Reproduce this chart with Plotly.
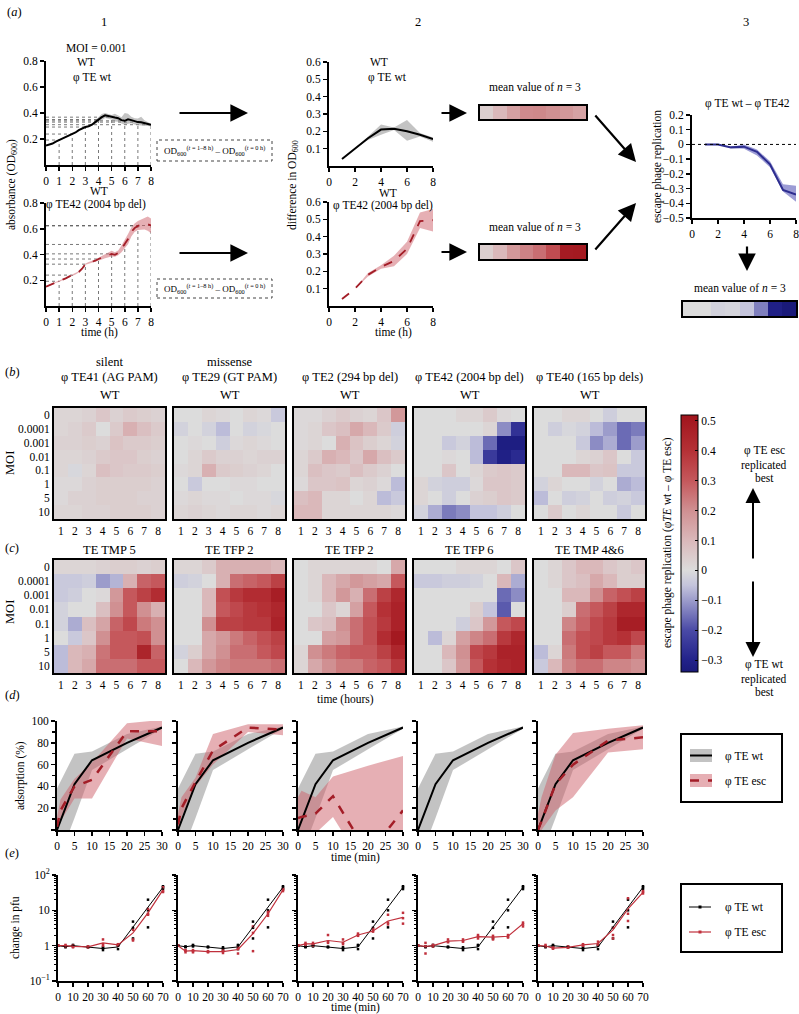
import plotly.graph_objects as go

FONT = "Liberation Serif"
W, H = 799, 1014

# ---------------- DATA ----------------
t_a1 = [0, 0.25, 0.5, 0.75, 1, 1.25, 1.5, 1.75, 2, 2.25, 2.5, 2.75, 3, 3.25, 3.5, 3.75,
        4, 4.25, 4.5, 4.75, 5, 5.25, 5.5, 5.75, 6, 6.25, 6.5, 6.75, 7, 7.25, 7.5, 7.75, 8]
od_wt_mean = [0.150, 0.155, 0.165, 0.180, 0.192, 0.200, 0.212, 0.225, 0.238, 0.250, 0.268, 0.283,
              0.292, 0.298, 0.310, 0.330, 0.350, 0.368, 0.382, 0.375, 0.368, 0.365, 0.360, 0.345,
              0.340, 0.352, 0.345, 0.335, 0.330, 0.328, 0.322, 0.318, 0.310]
od_wt_hi = [0.152, 0.157, 0.167, 0.182, 0.194, 0.202, 0.214, 0.227, 0.240, 0.252, 0.270, 0.286,
            0.296, 0.303, 0.318, 0.345, 0.372, 0.392, 0.400, 0.392, 0.385, 0.395, 0.382, 0.368,
            0.400, 0.395, 0.372, 0.360, 0.358, 0.372, 0.345, 0.330, 0.318]
od_wt_lo = [0.148, 0.153, 0.163, 0.178, 0.190, 0.198, 0.210, 0.223, 0.236, 0.248, 0.266, 0.280,
            0.288, 0.293, 0.302, 0.315, 0.330, 0.345, 0.362, 0.355, 0.350, 0.335, 0.332, 0.320,
            0.310, 0.318, 0.322, 0.312, 0.305, 0.300, 0.302, 0.300, 0.298]
od_esc_mean = [0.150, 0.160, 0.172, 0.185, 0.192, 0.205, 0.215, 0.228, 0.240, 0.250, 0.265, 0.290,
               0.325, 0.335, 0.342, 0.352, 0.365, 0.375, 0.385, 0.398, 0.405, 0.398, 0.412, 0.445,
               0.478, 0.520, 0.575, 0.605, 0.622, 0.630, 0.638, 0.635, 0.625]
od_esc_hi = [0.155, 0.165, 0.177, 0.190, 0.197, 0.210, 0.220, 0.233, 0.245, 0.255, 0.270, 0.295,
             0.330, 0.341, 0.349, 0.360, 0.375, 0.388, 0.402, 0.420, 0.430, 0.418, 0.432, 0.470,
             0.510, 0.560, 0.610, 0.640, 0.660, 0.672, 0.688, 0.695, 0.680]
od_esc_lo = [0.145, 0.155, 0.167, 0.180, 0.187, 0.200, 0.210, 0.223, 0.235, 0.245, 0.260, 0.285,
             0.320, 0.329, 0.335, 0.344, 0.355, 0.362, 0.370, 0.380, 0.385, 0.382, 0.395, 0.418,
             0.445, 0.480, 0.540, 0.575, 0.590, 0.592, 0.595, 0.585, 0.565]

hours = [1, 2, 3, 4, 5, 6, 7, 8]
diff_wt_mean = [0.04, 0.10, 0.16, 0.21, 0.215, 0.20, 0.18, 0.155]
diff_wt_hi = [0.04, 0.10, 0.17, 0.24, 0.222, 0.265, 0.19, 0.165]
diff_wt_lo = [0.04, 0.10, 0.15, 0.18, 0.208, 0.145, 0.17, 0.14]
diff_esc_mean = [0.04, 0.10, 0.18, 0.225, 0.26, 0.33, 0.49, 0.495]
diff_esc_hi = [0.04, 0.10, 0.19, 0.235, 0.29, 0.37, 0.54, 0.56]
diff_esc_lo = [0.04, 0.10, 0.17, 0.215, 0.23, 0.30, 0.45, 0.43]
rep_mean = [0.0, 0.0, -0.02, -0.015, -0.05, -0.135, -0.31, -0.34]
rep_hi = [0.0, 0.0, -0.015, 0.0, -0.035, -0.115, -0.27, -0.28]
rep_lo = [0.0, 0.0, -0.025, -0.03, -0.075, -0.155, -0.32, -0.39]

moi_labels = ["0", "0.0001", "0.001", "0.01", "0.1", "1", "5", "10"]

b_te41 = [[0.02, 0.02, 0.03, 0.06, 0.03, 0.05, 0.04, 0.03],
          [0.02, 0.03, 0.05, 0.00, 0.05, 0.12, 0.08, 0.05],
          [0.03, 0.03, 0.04, 0.03, 0.07, 0.05, 0.05, 0.04],
          [0.02, 0.02, 0.03, 0.05, 0.06, 0.06, 0.04, 0.03],
          [0.02, -0.01, 0.02, 0.08, 0.06, 0.05, 0.05, 0.04],
          [0.01, 0.01, 0.03, 0.04, 0.04, 0.04, 0.04, 0.03],
          [0.01, 0.03, 0.03, 0.04, 0.04, 0.04, 0.03, 0.03],
          [0.02, 0.02, 0.03, 0.03, 0.04, 0.04, 0.04, 0.03]]
b_te29 = [[0.00, 0.00, 0.02, 0.01, 0.00, 0.02, 0.01, -0.04],
          [-0.02, 0.00, -0.02, -0.06, 0.00, -0.02, -0.01, 0.00],
          [0.00, 0.01, 0.00, -0.03, 0.01, 0.02, 0.01, 0.00],
          [0.00, 0.02, 0.05, 0.03, 0.03, 0.02, 0.03, 0.03],
          [0.01, 0.02, 0.12, 0.05, 0.04, 0.03, 0.02, 0.00],
          [0.00, -0.04, 0.00, 0.00, 0.01, 0.01, 0.00, 0.00],
          [0.01, 0.02, 0.01, 0.01, 0.00, 0.01, 0.01, -0.01],
          [0.02, 0.03, 0.02, 0.01, 0.02, 0.02, 0.01, 0.02]]
b_te2 = [[0.01, 0.01, 0.03, 0.05, 0.03, 0.02, 0.06, 0.18],
         [0.01, 0.02, 0.06, 0.08, 0.14, 0.10, 0.05, -0.03],
         [0.01, 0.02, 0.00, 0.12, 0.07, 0.04, 0.02, -0.02],
         [0.02, 0.05, 0.12, 0.10, 0.06, 0.14, 0.08, 0.05],
         [0.02, 0.08, 0.06, 0.05, 0.08, 0.05, 0.03, 0.00],
         [0.01, 0.06, 0.06, 0.07, 0.02, 0.03, 0.01, -0.06],
         [0.08, 0.10, 0.02, 0.02, 0.00, 0.02, -0.06, -0.04],
         [0.10, 0.10, 0.02, 0.02, 0.02, 0.02, 0.02, 0.01]]
b_te42 = [[0.00, 0.00, 0.00, 0.02, 0.02, 0.05, 0.01, 0.00],
          [0.00, 0.00, 0.00, 0.00, 0.00, 0.02, -0.12, -0.26],
          [0.00, 0.00, -0.04, -0.02, -0.06, -0.16, -0.32, -0.32],
          [0.00, 0.00, 0.01, 0.00, -0.06, -0.24, -0.31, -0.28],
          [0.00, 0.00, 0.06, 0.00, 0.02, 0.05, 0.06, 0.05],
          [0.02, -0.02, -0.03, -0.03, 0.01, 0.06, 0.06, 0.05],
          [0.02, 0.00, -0.03, 0.00, 0.03, 0.04, 0.06, 0.05],
          [-0.02, -0.08, -0.14, -0.12, -0.05, -0.05, -0.03, 0.00]]
b_te40 = [[0.00, 0.00, 0.02, 0.02, 0.00, -0.03, 0.00, 0.00],
          [0.00, -0.03, -0.01, -0.02, -0.06, -0.10, -0.16, -0.14],
          [0.00, 0.00, 0.00, -0.04, -0.12, -0.08, -0.16, -0.10],
          [0.00, 0.00, 0.00, 0.02, 0.03, 0.06, 0.00, -0.04],
          [0.00, 0.00, 0.10, 0.10, 0.06, 0.07, -0.04, -0.04],
          [-0.02, 0.02, 0.00, 0.00, -0.02, 0.00, -0.08, -0.06],
          [-0.06, 0.00, -0.03, -0.02, 0.00, -0.03, -0.02, -0.04],
          [0.00, 0.05, 0.00, 0.02, 0.00, 0.00, -0.04, 0.00]]
c_tmp5 = [[0.02, 0.02, 0.02, 0.03, 0.04, 0.04, 0.03, 0.04],
          [-0.04, -0.04, -0.03, -0.10, -0.07, 0.12, 0.28, 0.30],
          [-0.04, -0.03, 0.00, 0.01, 0.18, 0.30, 0.36, 0.42],
          [-0.02, 0.00, 0.00, 0.08, 0.20, 0.30, 0.20, 0.12],
          [-0.02, -0.08, 0.08, 0.15, 0.28, 0.34, 0.24, 0.20],
          [0.00, -0.04, 0.06, 0.20, 0.30, 0.30, 0.32, 0.20],
          [-0.06, 0.10, 0.12, 0.25, 0.30, 0.30, 0.45, 0.28],
          [-0.06, 0.10, 0.14, 0.26, 0.26, 0.26, 0.30, 0.30]]
c_tfp2a = [[0.02, 0.02, 0.05, 0.12, 0.12, 0.12, 0.12, 0.10],
           [-0.03, -0.02, 0.00, 0.12, 0.26, 0.28, 0.30, 0.36],
           [0.00, 0.00, 0.10, 0.32, 0.38, 0.42, 0.42, 0.48],
           [0.00, 0.00, 0.10, 0.30, 0.34, 0.38, 0.40, 0.44],
           [0.00, 0.00, 0.20, 0.36, 0.36, 0.38, 0.38, 0.46],
           [0.00, 0.00, 0.14, 0.18, 0.24, 0.28, 0.32, 0.36],
           [-0.02, 0.04, 0.14, 0.20, 0.26, 0.26, 0.30, 0.34],
           [0.00, 0.10, 0.18, 0.22, 0.24, 0.24, 0.24, 0.26]]
c_tfp2b = [[0.00, 0.02, 0.02, 0.02, 0.02, 0.02, 0.00, 0.14],
           [0.00, 0.02, 0.10, 0.14, 0.18, 0.16, 0.14, 0.30],
           [0.00, 0.02, 0.10, 0.18, 0.12, 0.26, 0.36, 0.44],
           [0.00, 0.00, 0.06, 0.02, 0.16, 0.30, 0.40, 0.46],
           [0.00, 0.06, 0.08, 0.20, 0.26, 0.32, 0.38, 0.46],
           [0.00, 0.00, 0.16, 0.18, 0.26, 0.32, 0.42, 0.50],
           [0.02, 0.20, 0.24, 0.28, 0.30, 0.30, 0.36, 0.44],
           [0.02, 0.14, 0.20, 0.24, 0.24, 0.28, 0.30, 0.38]]
c_tfp6 = [[0.00, 0.00, 0.00, 0.02, 0.02, 0.02, 0.00, 0.06],
          [-0.04, -0.04, -0.03, -0.03, -0.02, 0.00, 0.10, -0.08],
          [0.00, 0.00, 0.00, 0.00, 0.00, 0.00, -0.16, -0.12],
          [0.00, 0.00, 0.00, 0.00, 0.04, -0.05, -0.18, 0.00],
          [0.00, 0.00, 0.00, -0.03, 0.06, 0.18, 0.30, 0.34],
          [0.00, -0.06, 0.02, 0.16, 0.22, 0.26, 0.38, 0.44],
          [0.00, 0.00, 0.10, 0.20, 0.34, 0.38, 0.46, 0.46],
          [0.00, 0.00, 0.06, 0.18, 0.30, 0.40, 0.44, 0.46]]
c_tmp46 = [[0.00, 0.02, 0.06, 0.10, 0.10, 0.06, 0.04, 0.06],
           [0.00, 0.02, 0.06, 0.08, 0.14, 0.10, 0.04, 0.04],
           [0.00, 0.00, 0.10, 0.10, 0.20, 0.28, 0.32, 0.36],
           [0.00, 0.00, 0.04, 0.26, 0.30, 0.36, 0.44, 0.44],
           [0.00, 0.00, 0.22, 0.28, 0.34, 0.38, 0.48, 0.48],
           [0.00, 0.00, 0.26, 0.32, 0.34, 0.38, 0.40, 0.34],
           [-0.06, 0.02, 0.24, 0.32, 0.36, 0.30, 0.30, 0.24],
           [-0.04, 0.10, 0.22, 0.26, 0.26, 0.22, 0.22, 0.20]]

PHI = "φ"
b_titles = [["silent", PHI + " TE41 (AG PAM)"], ["missense", PHI + " TE29 (GT PAM)"],
            ["", PHI + " TE2 (294 bp del)"], ["", PHI + " TE42 (2004 bp del)"],
            ["", PHI + " TE40 (165 bp dels)"]]
c_titles = ["TE TMP 5", "TE TFP 2", "TE TFP 2", "TE TFP 6", "TE TMP 4&6"]

# adsorption (d)
ads_wt_x = [0, 5, 10, 20, 30]
ads_wt_mean = [0, 42, 64, 80, 94]
ads_wt_hi = [38, 70, 72, 88, 95]
ads_wt_lo = [-31, 11, 55, 74, 93]
ads_esc_x = [0, 1, 5, 10, 20, 30]
ads_esc_mean = [[3, 18, 40, 46, 90.5, 90.5],
                [5, 20, 44, 73, 94, 92],
                [11, 12, 15, 31, -22, 18],
                None,
                [0, 8, 42, 60, 82, 85]]
ads_esc_hi = [[12, 28, 47, 62, 98, 101],
              [15, 30, 48, 88, 97, 97],
              [30, 36, 30, 49, 59, 68],
              None,
              [15, 30, 69, 89, 93, 96]]
ads_esc_lo = [[0, 8, 29, 29, 84, 77],
              [0, 12, 40, 60, 90, 87],
              [-5, -5, -3, 12, -40, -40],
              None,
              [-5, 0, 18, 30, 71, 74]]

# pfu (e)
pfu_x = [0, 5, 10, 20, 30, 40, 50, 60, 70]
pfu_wt_mean = [1.0, 0.93, 1.0, 0.92, 0.83, 0.92, 3.4, 12, 45]
pfu_wt_reps = [[1, 1, 1], [0.95, 0.9, 0.93], [1.05, 1.0, 0.95], [0.9, 0.93, 0.92], [0.75, 0.85, 0.9],
               [0.8, 1.0, 1.05], [4.8, 1.6, 3.2], [20, 3.3, 10], [45, 40, 48]]
pfu_esc_mean = [[1.0, 1.0, 0.95, 0.92, 1.2, 1.05, 2.3, 8.5, 38],
                [1.0, 0.7, 0.72, 0.68, 0.68, 0.78, 2.2, 8, 38],
                [1.0, 1.12, 1.12, 1.4, 1.25, 2.0, 2.6, 5.0, 6.3],
                [1.0, 0.95, 1.0, 1.35, 1.4, 1.8, 1.75, 1.85, 4.2],
                [1.0, 0.98, 0.85, 0.9, 1.05, 1.15, 2.8, 11, 32]]
pfu_esc_reps = [
    [[1, 1, 1], [1.05, 1.0, 0.95], [0.95, 0.9, 1.0], [0.92, 0.9, 0.95], [1.5, 1.1, 1.0], [1.1, 1.05, 1.0],
     [2.8, 1.5, 1.4], [11, 8, 7.5], [45, 35, 33]],
    [[1, 1, 1], [0.65, 0.72, 0.75], [0.7, 0.75, 0.65], [0.65, 0.7, 0.68], [0.62, 0.7, 0.72], [0.6, 0.8, 0.9],
     [0.7, 3.5, 2.3], [9, 7, 8], [40, 38, 35]],
    [[1, 1, 1], [1.2, 1.1, 1.05], [1.2, 1.0, 1.1], [2.0, 1.3, 1.2], [1.5, 1.1, 1.2], [2.2, 1.9, 2.0],
     [3.0, 2.5, 2.6], [7.5, 4.0, 4.5], [8.5, 4.2, 6.0]],
    [[1, 1, 1], [1.2, 0.6, 0.95], [1.05, 1.0, 0.95], [1.5, 1.3, 1.25], [1.5, 1.3, 1.35], [2.0, 1.8, 1.6],
     [1.9, 1.7, 1.5], [2.0, 1.7, 1.8], [4.5, 3.5, 4.0]],
    [[1, 1, 1], [1.05, 0.95, 0.98], [0.85, 0.9, 0.82], [0.9, 0.88, 0.95], [1.1, 1.0, 1.05], [1.3, 1.1, 1.05],
     [2.0, 1.6, 3.2], [22, 5, 8], [30, 33, 35]]]

# ---------------- STYLE ----------------
RED = "#a31d27"
RED_BAND = "rgba(205,95,105,0.5)"
GRAY_BAND = "rgba(135,135,135,0.5)"
BLUE = "#2d2d8f"
BLUE_BAND = "rgba(90,90,185,0.6)"
E_RED = "#c0303c"
CMIN, CMAX = -0.34, 0.52
cs_points = [(-0.34, '#1a1a7a'), (-0.30, '#22228a'), (-0.20, '#4a4aa6'), (-0.10, '#9c9ccb'),
             (-0.05, '#c4c4dc'), (0.0, '#dcdcdc'), (0.10, '#dab8ba'), (0.20, '#d09092'),
             (0.30, '#c5585c'), (0.40, '#b53136'), (0.52, '#a0141c')]
colorscale = [[(v - CMIN) / (CMAX - CMIN), c] for v, c in cs_points]

layout = dict(width=W, height=H, margin=dict(l=0, r=0, t=0, b=0, pad=0, autoexpand=False),
              paper_bgcolor='white', plot_bgcolor='white', showlegend=False,
              font=dict(family=FONT, size=11.5, color='black'))
annotations, shapes, traces = [], [], []
n_ax = [0]
TF = dict(family=FONT, size=11.5, color='black')


def axes(x0, x1, y0, y1, xkw, ykw):
    n_ax[0] += 1
    i = n_ax[0]
    s = '' if i == 1 else str(i)
    layout['xaxis' + s] = dict(domain=[x0 / W, x1 / W], anchor='y' + s, automargin=False,
                               ticklabeloverflow='allow', **xkw)
    layout['yaxis' + s] = dict(domain=[1 - y1 / H, 1 - y0 / H], anchor='x' + s, automargin=False,
                               ticklabeloverflow='allow', **ykw)
    return 'x' + s, 'y' + s


def lin(**kw):
    d = dict(showline=True, linecolor='black', linewidth=2, ticks='outside', ticklen=4, tickwidth=1.5,
             tickcolor='black', showgrid=False, zeroline=False, tickfont=TF, fixedrange=True)
    d.update(kw)
    return d


def hm(**kw):
    d = dict(showline=True, mirror=True, linecolor='black', linewidth=2, ticks='', showgrid=False,
             zeroline=False, tickfont=TF, fixedrange=True)
    d.update(kw)
    return d


def txt(x, y, s, size=11.5, angle=0, xanchor='center'):
    annotations.append(dict(x=x / W, y=1 - y / H, xref='paper', yref='paper', text=s, showarrow=False,
                            font=dict(family=FONT, size=size, color='black'), textangle=angle,
                            xanchor=xanchor, yanchor='middle'))


def arrow(x0, y0, x1, y1, w=2.2, size=1.6):
    annotations.append(dict(x=x1 / W, y=1 - y1 / H, ax=x0 - x1, ay=y0 - y1, xref='paper', yref='paper',
                            axref='pixel', ayref='pixel', showarrow=True, arrowhead=2, arrowsize=size,
                            arrowwidth=w, arrowcolor='black', text=''))


def rect(x0, y0, x1, y1, **kw):
    shapes.append(dict(type='rect', xref='paper', yref='paper', x0=x0 / W, x1=x1 / W,
                       y0=1 - y1 / H, y1=1 - y0 / H, **kw))


def pline(x0, x1, y, **kw):
    shapes.append(dict(type='line', xref='paper', yref='paper', x0=x0 / W, x1=x1 / W,
                       y0=1 - y / H, y1=1 - y / H, **kw))


def band(x, lo, hi, color, xa, ya):
    traces.append(go.Scatter(x=list(x) + list(x)[::-1], y=list(hi) + list(lo)[::-1], fill='toself',
                             fillcolor=color, line=dict(width=0), mode='lines', hoverinfo='skip',
                             xaxis=xa, yaxis=ya))


def line(x, y, color, xa, ya, width=2, dash='solid'):
    traces.append(go.Scatter(x=x, y=y, mode='lines', line=dict(color=color, width=width, dash=dash),
                             xaxis=xa, yaxis=ya, hoverinfo='skip'))


def guides(t, y, xa, ya):
    for h in hours:
        v = y[t.index(h)]
        line([0, h], [v, v], '#555555', xa, ya, width=0.8, dash='dot')
        line([h, h], [0, v], '#555555', xa, ya, width=0.8, dash='dot')


# ---------------- PANEL (a) ----------------
xa, ya = axes(46, 151, 61, 165, lin(range=[0, 8], tickvals=list(range(9))),
              lin(range=[0, 0.8], tickvals=[0.2, 0.4, 0.6, 0.8]))
guides(t_a1, od_wt_mean, xa, ya)
band(t_a1, od_wt_lo, od_wt_hi, GRAY_BAND, xa, ya)
line(t_a1, od_wt_mean, 'black', xa, ya, width=2)

xa, ya = axes(46, 151, 203, 306, lin(range=[0, 8], tickvals=list(range(9))),
              lin(range=[0, 0.8], tickvals=[0.2, 0.4, 0.6, 0.8]))
guides(t_a1, od_esc_mean, xa, ya)
band(t_a1, od_esc_lo, od_esc_hi, RED_BAND, xa, ya)
line(t_a1, od_esc_mean, RED, xa, ya, width=1.8, dash='dash')

xa, ya = axes(329, 433, 62, 166, lin(range=[0, 8], tickvals=[0, 2, 4, 6, 8]),
              lin(range=[0, 0.6], tickvals=[0.1, 0.2, 0.3, 0.4, 0.5, 0.6]))
band(hours, diff_wt_lo, diff_wt_hi, GRAY_BAND, xa, ya)
line(hours, diff_wt_mean, 'black', xa, ya, width=2)

xa, ya = axes(329, 433, 202, 306, lin(range=[0, 8], tickvals=[0, 2, 4, 6, 8]),
              lin(range=[0, 0.6], tickvals=[0.1, 0.2, 0.3, 0.4, 0.5, 0.6]))
band(hours, diff_esc_lo, diff_esc_hi, RED_BAND, xa, ya)
line(hours, diff_esc_mean, RED, xa, ya, width=1.8, dash='dash')

xa, ya = axes(692, 796, 115, 218, lin(range=[0, 8], tickvals=[0, 2, 4, 6, 8]),
              lin(range=[-0.5, 0.2], tickvals=[0.2, 0.1, 0, -0.1, -0.2, -0.3, -0.4, -0.5]))
shapes.append(dict(type='line', xref=xa, yref=ya, x0=0, x1=8, y0=0, y1=0,
                   line=dict(color='black', width=1, dash='dot')))
band(hours, rep_lo, rep_hi, BLUE_BAND, xa, ya)
line(hours, rep_mean, BLUE, xa, ya, width=2)

for (sx0, sx1, sy0, sy1), vals in [((480, 586, 106, 119), diff_wt_mean),
                                   ((480, 586, 245, 259), diff_esc_mean),
                                   ((683, 796, 302, 316), rep_mean)]:
    xa, ya = axes(sx0, sx1, sy0, sy1, hm(range=[0.5, 8.5], showticklabels=False),
                  hm(showticklabels=False))
    traces.append(go.Heatmap(z=[vals], x=hours, y=[0], coloraxis='coloraxis', xaxis=xa, yaxis=ya,
                             hoverinfo='skip'))

txt(14, 12, "(<i>a</i>)", 12.5)
txt(104, 22, "1", 12.5)
txt(418, 22, "2", 12.5)
txt(746, 22, "3", 12.5)
txt(96, 48, "MOI = 0.001")
txt(86, 62, "WT")
txt(92, 77, PHI + " TE wt")
txt(99, 191, "WT")
txt(96, 204, PHI + " TE42 (2004 bp del)")
txt(99, 332, "time (h)")
txt(12, 185, "absorbance (OD<sub>600</sub>)", angle=-90)
txt(379, 62, "WT")
txt(387, 77, PHI + " TE wt")
txt(388, 192.5, "WT")
txt(383, 205, PHI + " TE42 (2004 bp del)")
txt(393, 332, "time (h)")
txt(293, 185, "difference in OD<sub>600</sub>", angle=-90)
txt(535, 87, "mean value of <i>n</i> = 3")
txt(535, 227, "mean value of <i>n</i> = 3")
txt(747, 104, PHI + " TE wt – " + PHI + " TE42")
txt(657, 167, "escape phage replication", angle=-90)
txt(740, 288, "mean value of <i>n</i> = 3")
odtxt = "OD<sub>600</sub><sup>(<i>t</i> = 1–8 h)</sup> – OD<sub>600</sub><sup>(<i>t</i> = 0 h)</sup>"
for by0, by1 in [(140, 161), (279, 298)]:
    rect(157, by0, 272, by1, line=dict(color='#444444', width=1, dash='dot'))
    txt(214.5, (by0 + by1) / 2, odtxt, 9)
arrow(178, 113, 248, 113)
arrow(178, 253, 248, 253)
arrow(440, 113, 467, 113)
arrow(440, 252, 467, 252)
arrow(594, 114, 636, 162)
arrow(594, 251, 636, 203)
arrow(747, 245, 747, 271)

# ---------------- PANELS (b) and (c) ----------------
hx0 = [54, 174, 294, 414, 534]
b_data = [b_te41, b_te29, b_te2, b_te42, b_te40]
c_data = [c_tmp5, c_tfp2a, c_tfp2b, c_tfp6, c_tmp46]
for k in range(5):
    for (hy0, hy1), data in [((408, 519), b_data[k]), ((560, 673), c_data[k])]:
        xa, ya = axes(hx0[k], hx0[k] + 111, hy0, hy1, hm(range=[0.5, 8.5], tickvals=hours),
                      hm(type='category', autorange='reversed', showticklabels=(k == 0),
                         tickmode='array', tickvals=moi_labels, ticktext=moi_labels))
        traces.append(go.Heatmap(z=data, x=hours, y=moi_labels, coloraxis='coloraxis', xaxis=xa,
                                 yaxis=ya, hoverinfo='skip'))
    cx = hx0[k] + 55.5
    if b_titles[k][0]:
        txt(cx, 362, b_titles[k][0], 12.5)
    txt(cx, 377, b_titles[k][1], 12.5)
    txt(cx, 395, "WT", 12.5)
    txt(cx, 550, c_titles[k], 12.5)

txt(12, 372, "(<i>b</i>)", 12.5)
txt(12, 548, "(<i>c</i>)", 12.5)
txt(10, 463, "MOI", 12.5, angle=-90)
txt(10, 612, "MOI", 12.5, angle=-90)
txt(345, 699, "time (hours)")

layout['coloraxis'] = dict(
    cmin=CMIN, cmax=CMAX, colorscale=colorscale,
    colorbar=dict(x=681 / W, xanchor='left', y=1 - 543.5 / H, yanchor='middle', len=257 / H,
                  lenmode='fraction', thickness=17, thicknessmode='pixels', xpad=0, ypad=0,
                  outlinewidth=1, outlinecolor='black', ticks='inside', ticklen=3, tickcolor='black',
                  tickvals=[-0.3, -0.2, -0.1, 0, 0.1, 0.2, 0.3, 0.4, 0.5], tickfont=TF))
txt(667, 543, "escape phage replication (" + PHI + "<i>TE</i> wt – " + PHI + " TE esc)", angle=-90)
txt(764, 451, PHI + " TE esc")
txt(764, 465, "replicated")
txt(764, 478, "best")
txt(764, 664, PHI + " TE wt")
txt(764, 679, "replicated")
txt(764, 692, "best")
arrow(753, 560, 753, 488, w=2, size=1.5)
arrow(753, 580, 753, 657, w=2, size=1.5)

# ---------------- PANEL (d) ----------------
dx0 = [57, 178, 298, 418, 538]
for k in range(5):
    xa, ya = axes(dx0[k], dx0[k] + 105, 721, 830,
                  lin(range=[0, 30], tickvals=[0, 5, 10, 15, 20, 25, 30]),
                  lin(range=[0, 100], tickvals=[0, 20, 40, 60, 80, 100],
                      ticktext=['', '20', '40', '60', '80', '100'], showticklabels=(k == 0),
                      minor=dict(tickmode='array', tickvals=[10, 30, 50, 70, 90], ticks='outside',
                                 ticklen=3, tickwidth=1.5, tickcolor='black')))
    band(ads_wt_x, ads_wt_lo, ads_wt_hi, GRAY_BAND, xa, ya)
    if ads_esc_mean[k] is not None:
        band(ads_esc_x, ads_esc_lo[k], ads_esc_hi[k], RED_BAND, xa, ya)
    line(ads_wt_x, ads_wt_mean, 'black', xa, ya, width=2)
    if ads_esc_mean[k] is not None:
        line(ads_esc_x, ads_esc_mean[k], RED, xa, ya, width=2.5, dash='dash')
txt(12, 695, "(<i>d</i>)", 12.5)
txt(20, 776, "adsorption (%)", angle=-90)
txt(355, 857, "time (min)")
rect(681, 734, 782, 802, line=dict(color='black', width=2))
rect(690, 749, 712, 762, fillcolor=GRAY_BAND, line=dict(width=0))
pline(690, 712, 755.5, line=dict(color='black', width=2))
rect(690, 774, 712, 787, fillcolor=RED_BAND, line=dict(width=0))
pline(690, 712, 780.5, line=dict(color=RED, width=2.5, dash='dash'))
txt(723, 756, PHI + " TE wt", xanchor='left')
txt(723, 781, PHI + " TE esc", xanchor='left')

# ---------------- PANEL (e) ----------------
ex0 = [58, 178, 298, 418, 538]
minor_log = [m * 10 ** p for p in (-1, 0, 1) for m in range(2, 10)]
for k in range(5):
    xa, ya = axes(ex0[k], ex0[k] + 105, 875, 981,
                  lin(range=[0, 70], tickvals=[0, 10, 20, 30, 40, 50, 60, 70]),
                  lin(type='log', range=[-1, 2], tickvals=[0.1, 1, 10, 100],
                      ticktext=['10<sup>−1</sup>', '1', '10', '10<sup>2</sup>'], showticklabels=(k == 0),
                      minor=dict(tickmode='array', tickvals=minor_log, ticks='outside', ticklen=2,
                                 tickwidth=1, tickcolor='black')))
    rx = [x for x, r in zip(pfu_x, pfu_wt_reps) for _ in r]
    ry = [v for r in pfu_wt_reps for v in r]
    traces.append(go.Scatter(x=rx, y=ry, mode='markers', marker=dict(color='black', size=2.5, symbol='square'),
                             xaxis=xa, yaxis=ya, hoverinfo='skip', cliponaxis=False))
    rx = [x for x, r in zip(pfu_x, pfu_esc_reps[k]) for _ in r]
    ry = [v for r in pfu_esc_reps[k] for v in r]
    traces.append(go.Scatter(x=rx, y=ry, mode='markers', marker=dict(color=E_RED, size=2.5, symbol='square'),
                             xaxis=xa, yaxis=ya, hoverinfo='skip', cliponaxis=False))
    line(pfu_x, pfu_wt_mean, 'black', xa, ya, width=1)
    line(pfu_x, pfu_esc_mean[k], E_RED, xa, ya, width=1.2)
txt(12, 853, "(<i>e</i>)", 12.5)
txt(15, 928, "change in pfu", angle=-90)
txt(355, 1007, "time (min)")
rect(681, 884, 782, 952, line=dict(color='black', width=2))
pline(689, 711, 907, line=dict(color='black', width=1))
rect(698.5, 905.5, 701.5, 908.5, fillcolor='black', line=dict(width=0))
pline(689, 711, 932, line=dict(color=E_RED, width=1.2))
rect(698.5, 930.5, 701.5, 933.5, fillcolor=E_RED, line=dict(width=0))
txt(723, 907, PHI + " TE wt", xanchor='left')
txt(723, 932, PHI + " TE esc", xanchor='left')

layout['annotations'] = annotations
layout['shapes'] = shapes
fig = go.Figure(data=traces)
fig.update_layout(**layout)
fig.write_html("out.html", config={'displayModeBar': False, 'staticPlot': True},
               post_script="document.body.style.margin='0px';document.body.style.overflow='hidden';")
